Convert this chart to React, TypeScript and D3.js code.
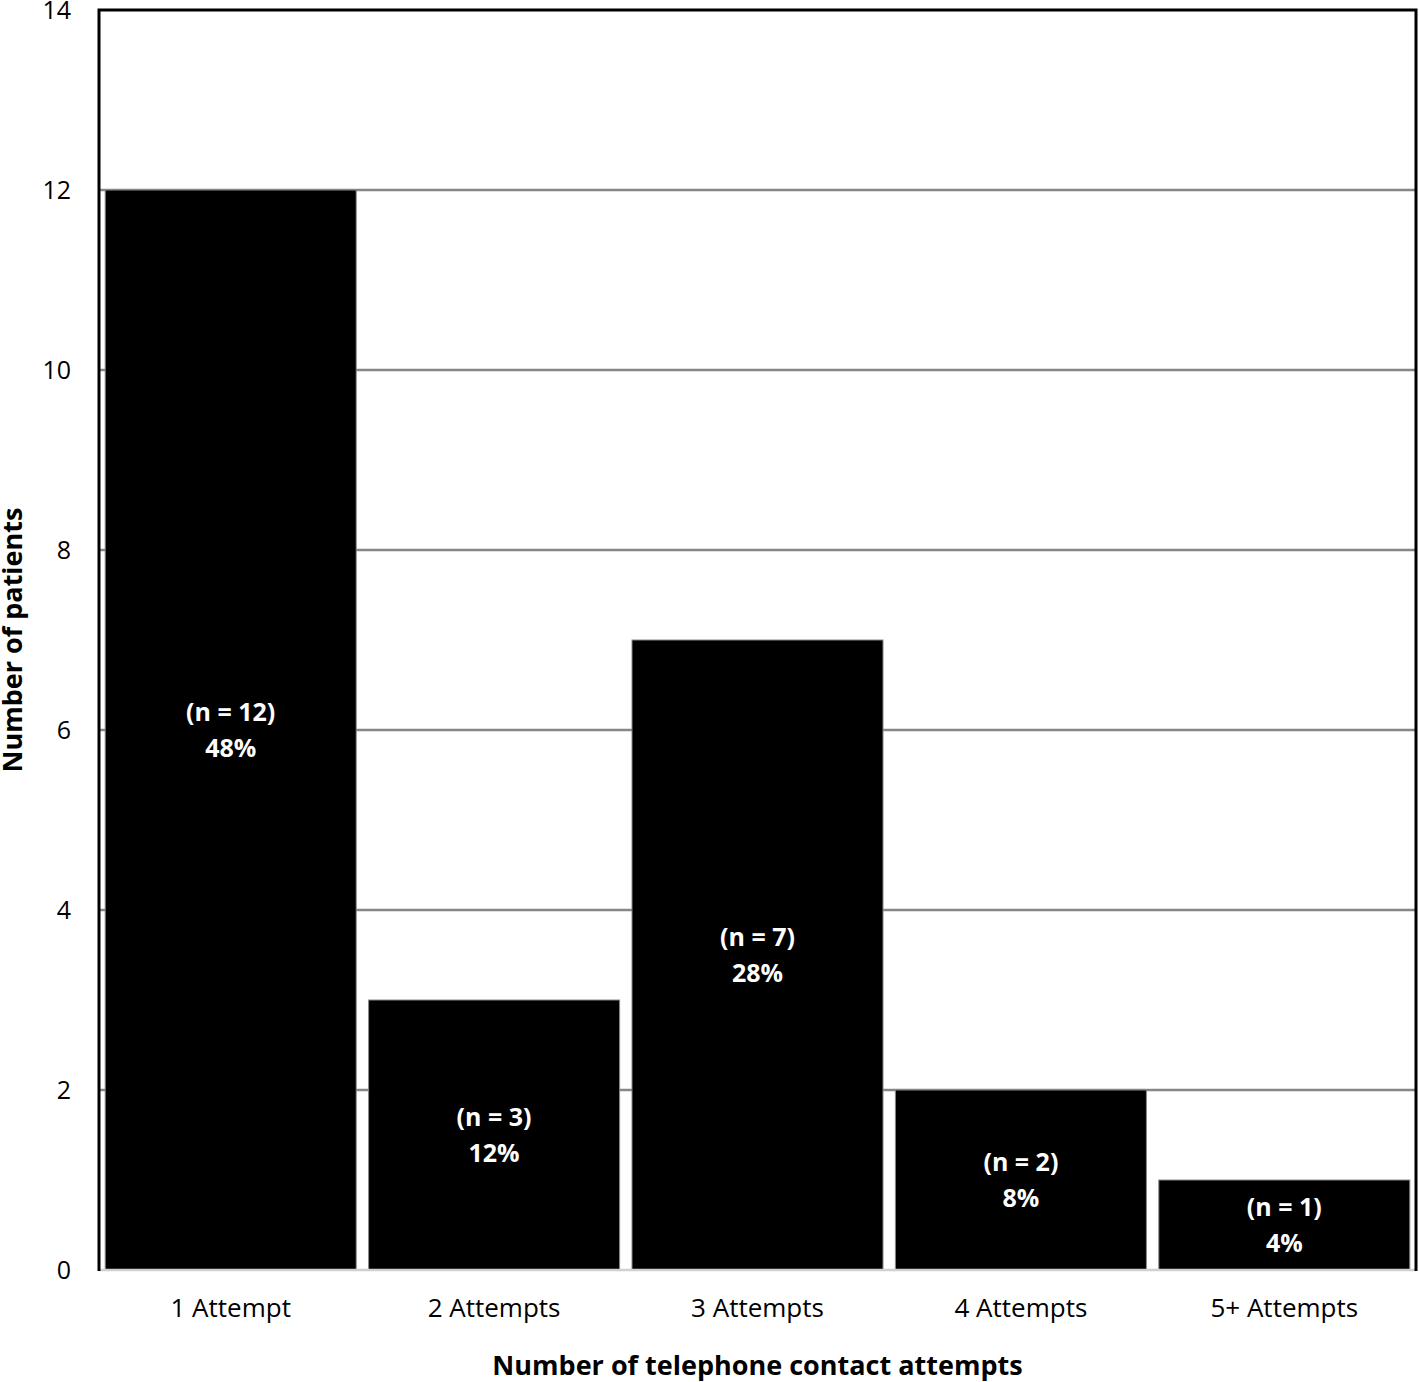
import * as d3 from "d3";

const categories = ["1 Attempt", "2 Attempts", "3 Attempts", "4 Attempts", "5+ Attempts"];
const patients = [12, 3, 7, 2, 1];
const percents = ["48%", "12%", "28%", "8%", "4%"];
const yTicks = [0, 2, 4, 6, 8, 10, 12, 14];

const width = 1419;
const height = 1382;
const marginLeft = 99;
const marginRight = 3;
const marginTop = 10;
const marginBottom = 112;
const font = "'Open Sans', Lato, sans-serif";

export default function App() {
  const x = d3
    .scaleBand<string>()
    .domain(categories)
    .range([marginLeft, width - marginRight])
    .paddingInner(0.047)
    .paddingOuter(0.0235);
  const y = d3.scaleLinear([0, 14], [height - marginBottom, marginTop]);
  const x0 = marginLeft;
  const x1 = width - marginRight;

  return (
    <svg
      width={width}
      height={height}
      style={{ position: "absolute", left: 0, top: 0, background: "#fff" }}
      fontFamily={font}
    >
      {/* gridlines */}
      {yTicks.slice(1, -1).map((t) => (
        <line key={t} x1={x0} x2={x1} y1={y(t)} y2={y(t)} stroke="#868686" strokeWidth={2.5} />
      ))}
      {/* bars */}
      {categories.map((c, i) => (
        <rect
          key={c}
          x={x(c)}
          y={y(patients[i])}
          width={x.bandwidth()}
          height={y(0) - y(patients[i])}
          fill="#000"
          stroke="#888"
          strokeWidth={1}
        />
      ))}
      {/* bar labels */}
      {categories.map((c, i) => {
        const cx = x(c)! + x.bandwidth() / 2;
        const cy = (y(patients[i]) + y(0)) / 2;
        return (
          <text key={c} x={cx} textAnchor="middle" fill="#fff" fontWeight="bold" fontSize={25}>
            <tspan x={cx} y={cy - 18 + 9}>{`(n = ${patients[i]})`}</tspan>
            <tspan x={cx} y={cy + 18 + 9}>{percents[i]}</tspan>
          </text>
        );
      })}
      {/* axis baseline */}
      <line x1={x0} x2={x1} y1={y(0)} y2={y(0)} stroke="#d0d0d0" strokeWidth={2.5} />
      {/* frame: top, left, right */}
      <path
        d={`M${x0},${y(0) + 1}V${marginTop}H${x1}V${y(0) + 1}`}
        fill="none"
        stroke="#000"
        strokeWidth={3}
      />
      {/* y tick labels */}
      {yTicks.map((t) => (
        <text key={t} x={71} y={y(t) + 9} textAnchor="end" fontSize={25} fill="#000">
          {t}
        </text>
      ))}
      {/* x tick labels */}
      {categories.map((c) => (
        <text
          key={c}
          x={x(c)! + x.bandwidth() / 2}
          y={y(0) + 47}
          textAnchor="middle"
          fontSize={26}
          fill="#000"
        >
          {c}
        </text>
      ))}
      {/* axis titles */}
      <text
        x={(x0 + x1) / 2}
        y={height - 7}
        textAnchor="middle"
        fontSize={27}
        fontWeight="bold"
        fill="#000"
      >
        Number of telephone contact attempts
      </text>
      <text
        transform={`translate(22,${640}) rotate(-90)`}
        textAnchor="middle"
        fontSize={27}
        fontWeight="bold"
        fill="#000"
      >
        Number of patients
      </text>
    </svg>
  );
}
